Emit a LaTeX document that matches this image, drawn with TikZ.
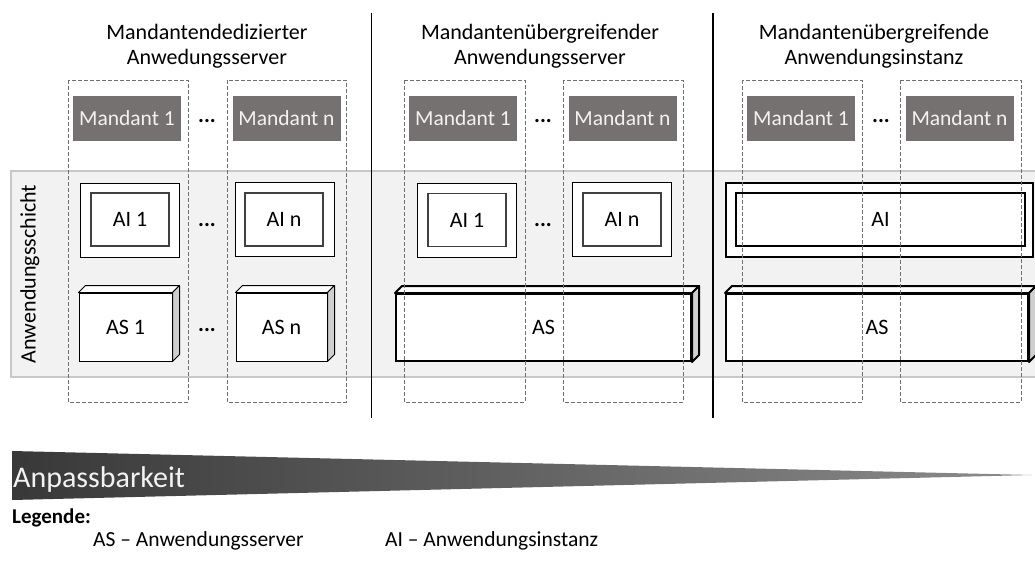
\documentclass[tikz,border=0pt]{standalone}
\usepackage{fontspec}
\setmainfont{Carlito}
\usetikzlibrary{calc}
\definecolor{mgray}{HTML}{767171}
\definecolor{bandfill}{HTML}{F2F2F2}
\definecolor{bandline}{HTML}{C8C8C8}
\definecolor{sidegray}{HTML}{CFCFCF}
\definecolor{dashgray}{HTML}{707070}
\begin{document}
\begin{tikzpicture}[x=1pt,y=-1pt,
  title/.style={align=center,inner sep=0pt,font=\fontsize{22}{25}\selectfont},
  mandant/.style={fill=mgray,text=white!95!black,minimum width=108pt,minimum height=45pt,inner sep=0pt,font=\fontsize{21.5}{25}\selectfont},
  dots/.style={inner sep=0pt,font=\fontsize{22}{25}\selectfont\bfseries},
  lbl/.style={font=\fontsize{22}{25}\selectfont},
  aiouter/.style={draw=black,line width=1pt,fill=white,minimum width=99pt,minimum height=74pt,inner sep=0pt},
  aiinner/.style={draw=black!75,line width=1.2pt,fill=white,minimum width=78pt,minimum height=53pt,inner sep=0pt,lbl},
  asfront/.style={draw=black,line width=1pt,fill=white,minimum height=68pt,inner sep=0pt,lbl},
  column/.style={draw=dashgray,line width=0.9pt,dash pattern=on 4pt off 2pt},
  divider/.style={draw=black,line width=1.5pt},
  legend/.style={anchor=west,inner sep=0pt,font=\fontsize{21.5}{24}\selectfont}
]
\useasboundingbox (0,0) rectangle (1035,565);

% application layer band
\draw[fill=bandfill,draw=bandline,line width=1.5pt] (11,171) rectangle (1045,377);
\node[lbl,rotate=90] (layer) at (30,274) {Anwendungsschicht};

% section titles
\node[title] (t1) at (207,46) {Mandantendedizierter\\Anwedungsserver};
\node[title] (t2) at (540,46) {Mandantenübergreifender\\Anwendungsserver};
\node[title] (t3) at (874,46) {Mandantenübergreifende\\Anwendungsinstanz};

% tenants
\node[mandant] (m1a) at (127,118.5) {Mandant 1};
\node[mandant] (mna) at (286.5,118.5) {Mandant n};
\node[mandant] (m1b) at (463,118.5) {Mandant 1};
\node[mandant] (mnb) at (622.5,118.5) {Mandant n};
\node[mandant] (m1c) at (801,118.5) {Mandant 1};
\node[mandant] (mnc) at (959.5,118.5) {Mandant n};
\node[dots] (d1) at (207,121) {...};
\node[dots] (d2) at (543,121) {...};
\node[dots] (d3) at (881,121) {...};

% application instances
\node[aiouter] (ai1a) at (129.5,220) {};
\node[aiinner] (ai1ai) at (130,219.5) {AI 1};
\node[aiouter] (aina) at (284.5,219.5) {};
\node[aiinner] (ainai) at (284,219.5) {AI n};
\node[aiouter] (ai1b) at (466.5,220) {};
\node[aiinner] (ai1bi) at (467,220) {AI 1};
\node[aiouter] (ainb) at (622,219.5) {};
\node[aiinner] (ainbi) at (622,219.5) {AI n};
\node[dots] (d4) at (207,225) {...};
\node[dots] (d5) at (543,225) {...};
\node[draw=black,line width=1.5pt,fill=white,minimum width=307pt,minimum height=74pt,inner sep=0pt] (aic) at (879.5,220) {};
\node[draw=black,line width=2.5pt,fill=white,minimum width=289pt,minimum height=53pt,inner sep=0pt,lbl] (aici) at (880.5,219.5) {AI};

% application servers (front faces)
\node[asfront,minimum width=93pt] (as1) at (125.5,327) {AS 1};
\node[asfront,minimum width=91pt] (asn) at (281.5,327) {AS n};
\node[asfront,line width=2pt,minimum width=295pt,minimum height=67pt] (asb) at (543.5,327.5) {AS};
\node[asfront,line width=2pt,minimum width=302pt,minimum height=67pt] (asc) at (877,327.5) {AS};
\node[dots] (d6) at (207,330) {...};

% top and side faces of the server boxes
\foreach \n/\w in {as1/1pt,asn/1pt,asb/2pt,asc/2pt}{
  \filldraw[fill=white,line width=\w,line join=round]
    (\n.north west) -- ++(7,-7) -- ($(\n.north east)+(7,-7)$) -- (\n.north east) -- cycle;
  \filldraw[fill=sidegray,line width=\w,line join=round]
    (\n.north east) -- ++(7,-7) -- ($(\n.south east)+(7,-7)$) -- (\n.south east) -- cycle;
}

% tenant columns
\foreach \l/\r in {68/188,227/346,404/525,563/683,742/862,900/1021}{
  \draw[column] (\l,80) rectangle (\r,402);
}

% section dividers
\coordinate (v1t) at (371.5,13);
\coordinate (v1b) at (371.5,418);
\coordinate (v2t) at (713,13);
\coordinate (v2b) at (713,418);
\draw[divider] (v1t) -- (v1b);
\draw[divider] (v2t) -- (v2b);

% adaptability wedge
\coordinate (wtl) at (12,451);
\coordinate (wbl) at (12,500);
\coordinate (wtip) at (1032,475);
\shade[left color=black!78,right color=black!45] (wtl) -- (wtip) -- (wbl) -- cycle;
\node[anchor=west,inner sep=0pt,text=white!95!black,font=\fontsize{30}{32}\selectfont] (adapt) at (13,479) {Anpassbarkeit};

% legend
\node[legend,font=\fontsize{21}{24}\selectfont\bfseries] (leg) at (12,518) {Legende:};
\node[legend] (lgas) at (93,541) {AS – Anwendungsserver};
\node[legend] (lgai) at (385,541) {AI – Anwendungsinstanz};
\end{tikzpicture}
\end{document}
